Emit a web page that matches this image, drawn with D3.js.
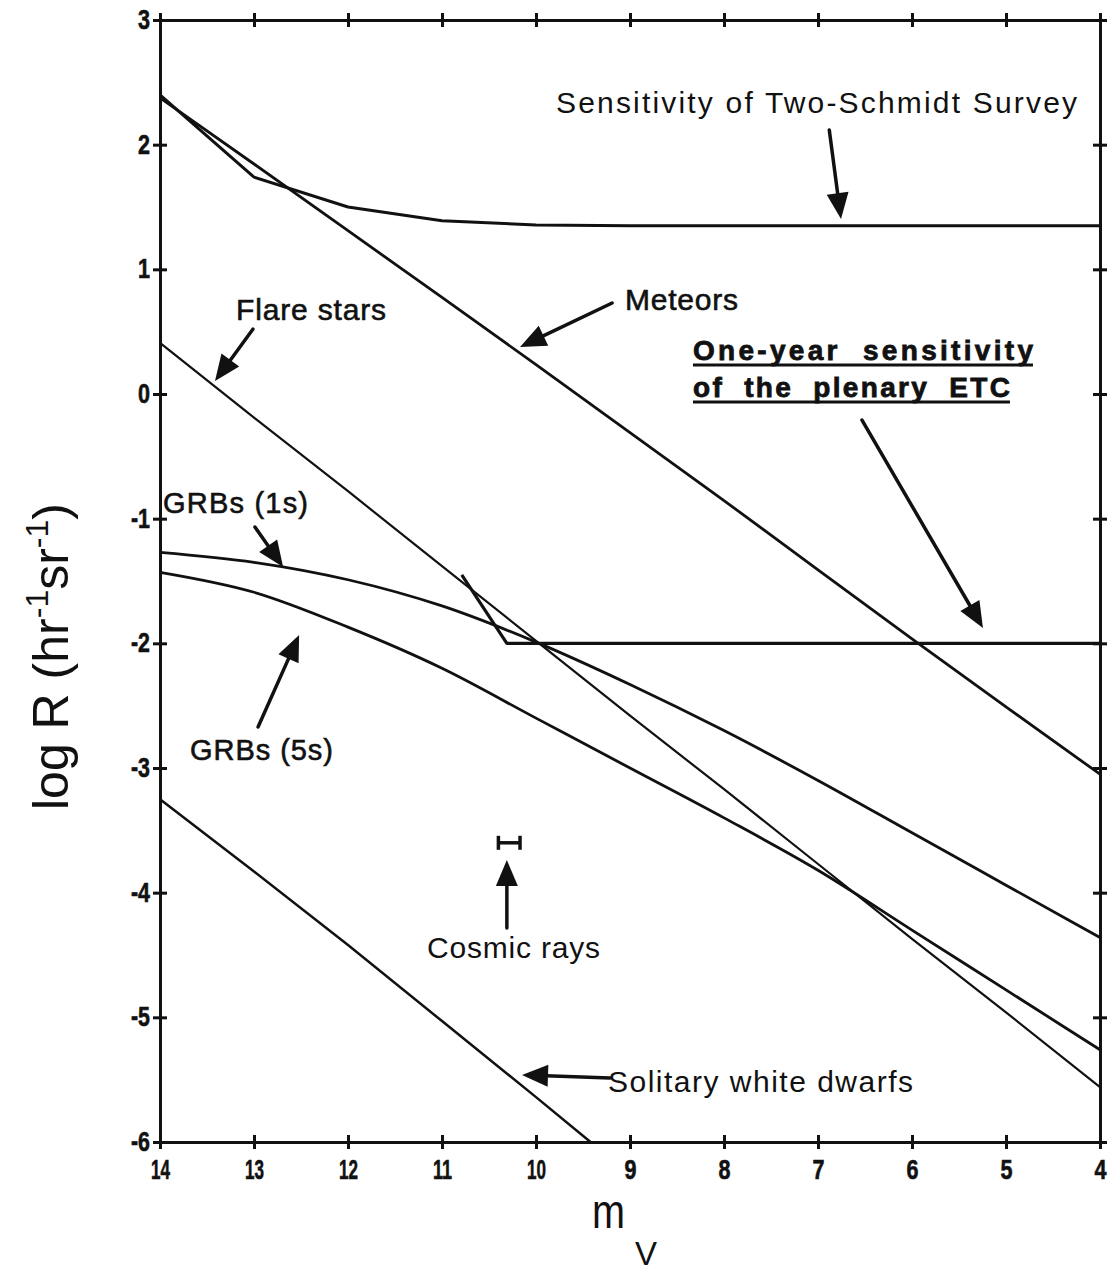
<!DOCTYPE html>
<html><head><meta charset="utf-8">
<script src="https://cdn.jsdelivr.net/npm/d3@7"></script>
<style>body{margin:0;background:#fff} svg{display:block}</style>
</head><body><svg id="c" width="1113" height="1272"></svg>
<script>
// ---------- data ----------
const mags        = [14, 13, 12, 11, 10, 9, 8, 7, 6, 5, 4];
const meteors     = [2.375, 1.845, 1.31, 0.775, 0.235, -0.31, -0.855, -1.41, -1.965, -2.51, -3.05];
const schmidt     = [2.40, 1.74, 1.50, 1.39, 1.355, 1.35, 1.35, 1.35, 1.35, 1.35, 1.35];
const flareStars  = [0.41, -0.19, -0.78, -1.38, -1.98, -2.58, -3.17, -3.77, -4.37, -4.96, -5.56];
const grb1s       = [-1.27, -1.35, -1.49, -1.70, -1.99, -2.33, -2.70, -3.10, -3.52, -3.94, -4.36];
const grb5s       = [-1.43, -1.59, -1.87, -2.20, -2.60, -3.00, -3.40, -3.82, -4.30, -4.78, -5.26];
const etcMags     = [10.79, 10.31, 4];
const etcSens     = [-1.45, -2.0, -2.0];
const wdMags      = [14, 13, 12, 11, 10, 9.42];
const whiteDwarfs = [-3.25, -3.83, -4.42, -5.03, -5.64, -6.0];
const cosmicMags  = [10.40, 10.17];
const cosmicLogR  = -3.6;
const xTicks = [14, 13, 12, 11, 10, 9, 8, 7, 6, 5, 4];
const yTicks = [3, 2, 1, 0, -1, -2, -3, -4, -5, -6];

// ---------- scales ----------
const svg = d3.select("#c");
const x = d3.scaleLinear().domain([14, 4]).range([160, 1100]);
const y = d3.scaleLinear().domain([3, -6]).range([20, 1142]);
const ink = "#111";
const sansFont = "'Liberation Sans', Arial, Helvetica, sans-serif";

// ---------- axes (frame with cross ticks) ----------
function styleAxis(g, orient) {
  g.select(".domain").attr("stroke", ink).attr("stroke-width", 3);
  g.selectAll(".tick line").attr("stroke", ink).attr("stroke-width", 3);
  if (orient === "h") g.selectAll(".tick line").attr("y1", -7).attr("y2", 7);
  else g.selectAll(".tick line").attr("x1", -7).attr("x2", 7);
  g.selectAll(".tick text").attr("fill", ink).attr("font-family", sansFont)
    .attr("font-weight", "bold").attr("font-size", 27)
    .attr("stroke", ink).attr("stroke-width", 0.6)
    .attr("textLength", d => String(d).length === 1 ? 12 : 19)
    .attr("lengthAdjust", "spacingAndGlyphs");
}
const gB = svg.append("g").attr("transform", `translate(0,${y(-6)})`)
  .call(d3.axisBottom(x).tickValues(xTicks).tickSizeOuter(0).tickSize(7).tickPadding(8).tickFormat(d => String(d)));
styleAxis(gB, "h");
gB.selectAll(".tick text").attr("dy", "0.8em");
const gT = svg.append("g").attr("transform", `translate(0,${y(3)})`)
  .call(d3.axisTop(x).tickValues(xTicks).tickSizeOuter(0).tickSize(7).tickFormat(""));
styleAxis(gT, "h");
const gL = svg.append("g").attr("transform", `translate(${x(14)},0)`)
  .call(d3.axisLeft(y).tickValues(yTicks).tickSizeOuter(0).tickSize(7).tickPadding(3).tickFormat(d => String(d)));
styleAxis(gL, "v");
const gR = svg.append("g").attr("transform", `translate(${x(4)},0)`)
  .call(d3.axisRight(y).tickValues(yTicks).tickSizeOuter(0).tickSize(7).tickFormat(""));
styleAxis(gR, "v");

// ---------- curves ----------
const zip = (xs, ys) => xs.map((m, i) => [m, ys[i]]);
const lineLin = d3.line().x(d => x(d[0])).y(d => y(d[1]));
const lineSmooth = d3.line().x(d => x(d[0])).y(d => y(d[1])).curve(d3.curveMonotoneX);
const series = [
  { pts: zip(mags, meteors),    gen: lineLin,    w: 2.8 },
  { pts: zip(mags, schmidt),    gen: lineLin,    w: 3.0 },
  { pts: zip(mags, flareStars), gen: lineLin,    w: 2.2 },
  { pts: zip(mags, grb1s),      gen: lineSmooth, w: 2.8 },
  { pts: zip(mags, grb5s),      gen: lineSmooth, w: 2.8 },
  { pts: zip(etcMags, etcSens), gen: lineLin,    w: 3.2 },
  { pts: zip(wdMags, whiteDwarfs), gen: lineLin, w: 2.5 }
];
svg.append("g").selectAll("path").data(series).join("path")
  .attr("d", d => d.gen(d.pts)).attr("fill", "none").attr("stroke", ink)
  .attr("stroke-width", d => d.w).attr("stroke-linejoin", "round");

// cosmic rays error bar
const cr = svg.append("g").attr("stroke", ink).attr("stroke-width", 3.5);
cr.append("line").attr("x1", x(cosmicMags[0])).attr("x2", x(cosmicMags[1]))
  .attr("y1", y(cosmicLogR)).attr("y2", y(cosmicLogR));
cosmicMags.forEach(m => cr.append("line").attr("x1", x(m)).attr("x2", x(m))
  .attr("y1", y(cosmicLogR) - 7).attr("y2", y(cosmicLogR) + 7));

// ---------- annotation arrows (data coordinates) ----------
const arrows = [
  [6.88, 2.118, 6.755, 1.404],
  [9.19, 0.73, 10.17, 0.377],
  [13.01, 0.521, 13.415, 0.104],
  [12.99, -1.067, 12.69, -1.388],
  [12.957, -2.671, 12.52, -1.933],
  [6.532, -0.209, 5.245, -1.877],
  [10.31, -4.283, 10.31, -3.738],
  [9.213, -5.486, 10.149, -5.462]
];
const ag = svg.append("g");
arrows.forEach(([m1, l1, m2, l2]) => {
  const x1 = x(m1), y1 = y(l1), x2 = x(m2), y2 = y(l2);
  const dx = x2 - x1, dy = y2 - y1, len = Math.hypot(dx, dy);
  const ux = dx / len, uy = dy / len, hl = 26, hw = 11;
  const bx = x2 - ux * hl, by = y2 - uy * hl;
  ag.append("line").attr("x1", x1).attr("y1", y1).attr("x2", bx + ux * 2).attr("y2", by + uy * 2)
    .attr("stroke", ink).attr("stroke-width", 3.5).attr("stroke-linecap", "round");
  ag.append("polygon").attr("fill", ink)
    .attr("points", [[x2, y2], [bx - uy * hw, by + ux * hw], [bx + uy * hw, by - ux * hw]].map(p => p.join(",")).join(" "));
});

// ---------- labels ----------
const labels = [
  { t: "Sensitivity of Two-Schmidt Survey", m: 9.787, l: 2.254, len: 521, fs: 30 },
  { t: "Meteors", m: 9.053, l: 0.674, len: 113, fs: 30, heavy: true },
  { t: "Flare stars", m: 13.191, l: 0.594, len: 150, fs: 30, heavy: true },
  { t: "GRBs (1s)", m: 13.968, l: -0.955, len: 145, fs: 29, heavy: true },
  { t: "GRBs (5s)", m: 13.681, l: -2.936, len: 143, fs: 29, heavy: true },
  { t: "One-year  sensitivity", m: 8.330, l: 0.273, len: 340, fs: 28, bold: true, ul: true },
  { t: "of  the  plenary  ETC", m: 8.330, l: -0.024, len: 317, fs: 28, bold: true, ul: true },
  { t: "Cosmic rays", m: 11.16, l: -4.524, len: 173, fs: 30 },
  { t: "Solitary white dwarfs", m: 9.234, l: -5.599, len: 305, fs: 30 }
];
const lg = svg.append("g").attr("fill", ink).attr("font-family", sansFont);
labels.forEach(d => {
  const t = lg.append("text").attr("x", x(d.m)).attr("y", y(d.l))
    .attr("font-size", d.fs)
    .attr("font-weight", d.bold ? "bold" : "normal")
    .attr("textLength", d.len).attr("lengthAdjust", "spacing")
    .style("white-space", "pre")
    .text(d.t);
  if (d.heavy || d.bold) t.attr("stroke", ink).attr("stroke-width", d.bold ? 0.8 : 0.6);
  if (d.ul) lg.append("line").attr("x1", x(d.m)).attr("x2", x(d.m) + d.len)
    .attr("y1", y(d.l) + 5).attr("y2", y(d.l) + 5).attr("stroke", ink).attr("stroke-width", 3);
});

// axis titles
const yt = svg.append("text").attr("transform", "translate(68,810) rotate(-90)")
  .attr("font-family", sansFont).attr("font-size", 50).attr("fill", ink);
yt.append("tspan").text("log R (hr");
yt.append("tspan").attr("dy", -20).attr("font-size", 32).text("-1");
yt.append("tspan").attr("dy", 20).text("sr");
yt.append("tspan").attr("dy", -20).attr("font-size", 32).text("-1");
yt.append("tspan").attr("dy", 20).text(")");

svg.append("text").attr("x", 592).attr("y", 1228).attr("font-family", sansFont)
  .attr("font-size", 48).attr("fill", ink).attr("textLength", 33).attr("lengthAdjust", "spacingAndGlyphs").text("m");
svg.append("text").attr("x", 635).attr("y", 1265).attr("font-family", sansFont)
  .attr("font-size", 33).attr("fill", ink).text("V");
</script></body></html>
